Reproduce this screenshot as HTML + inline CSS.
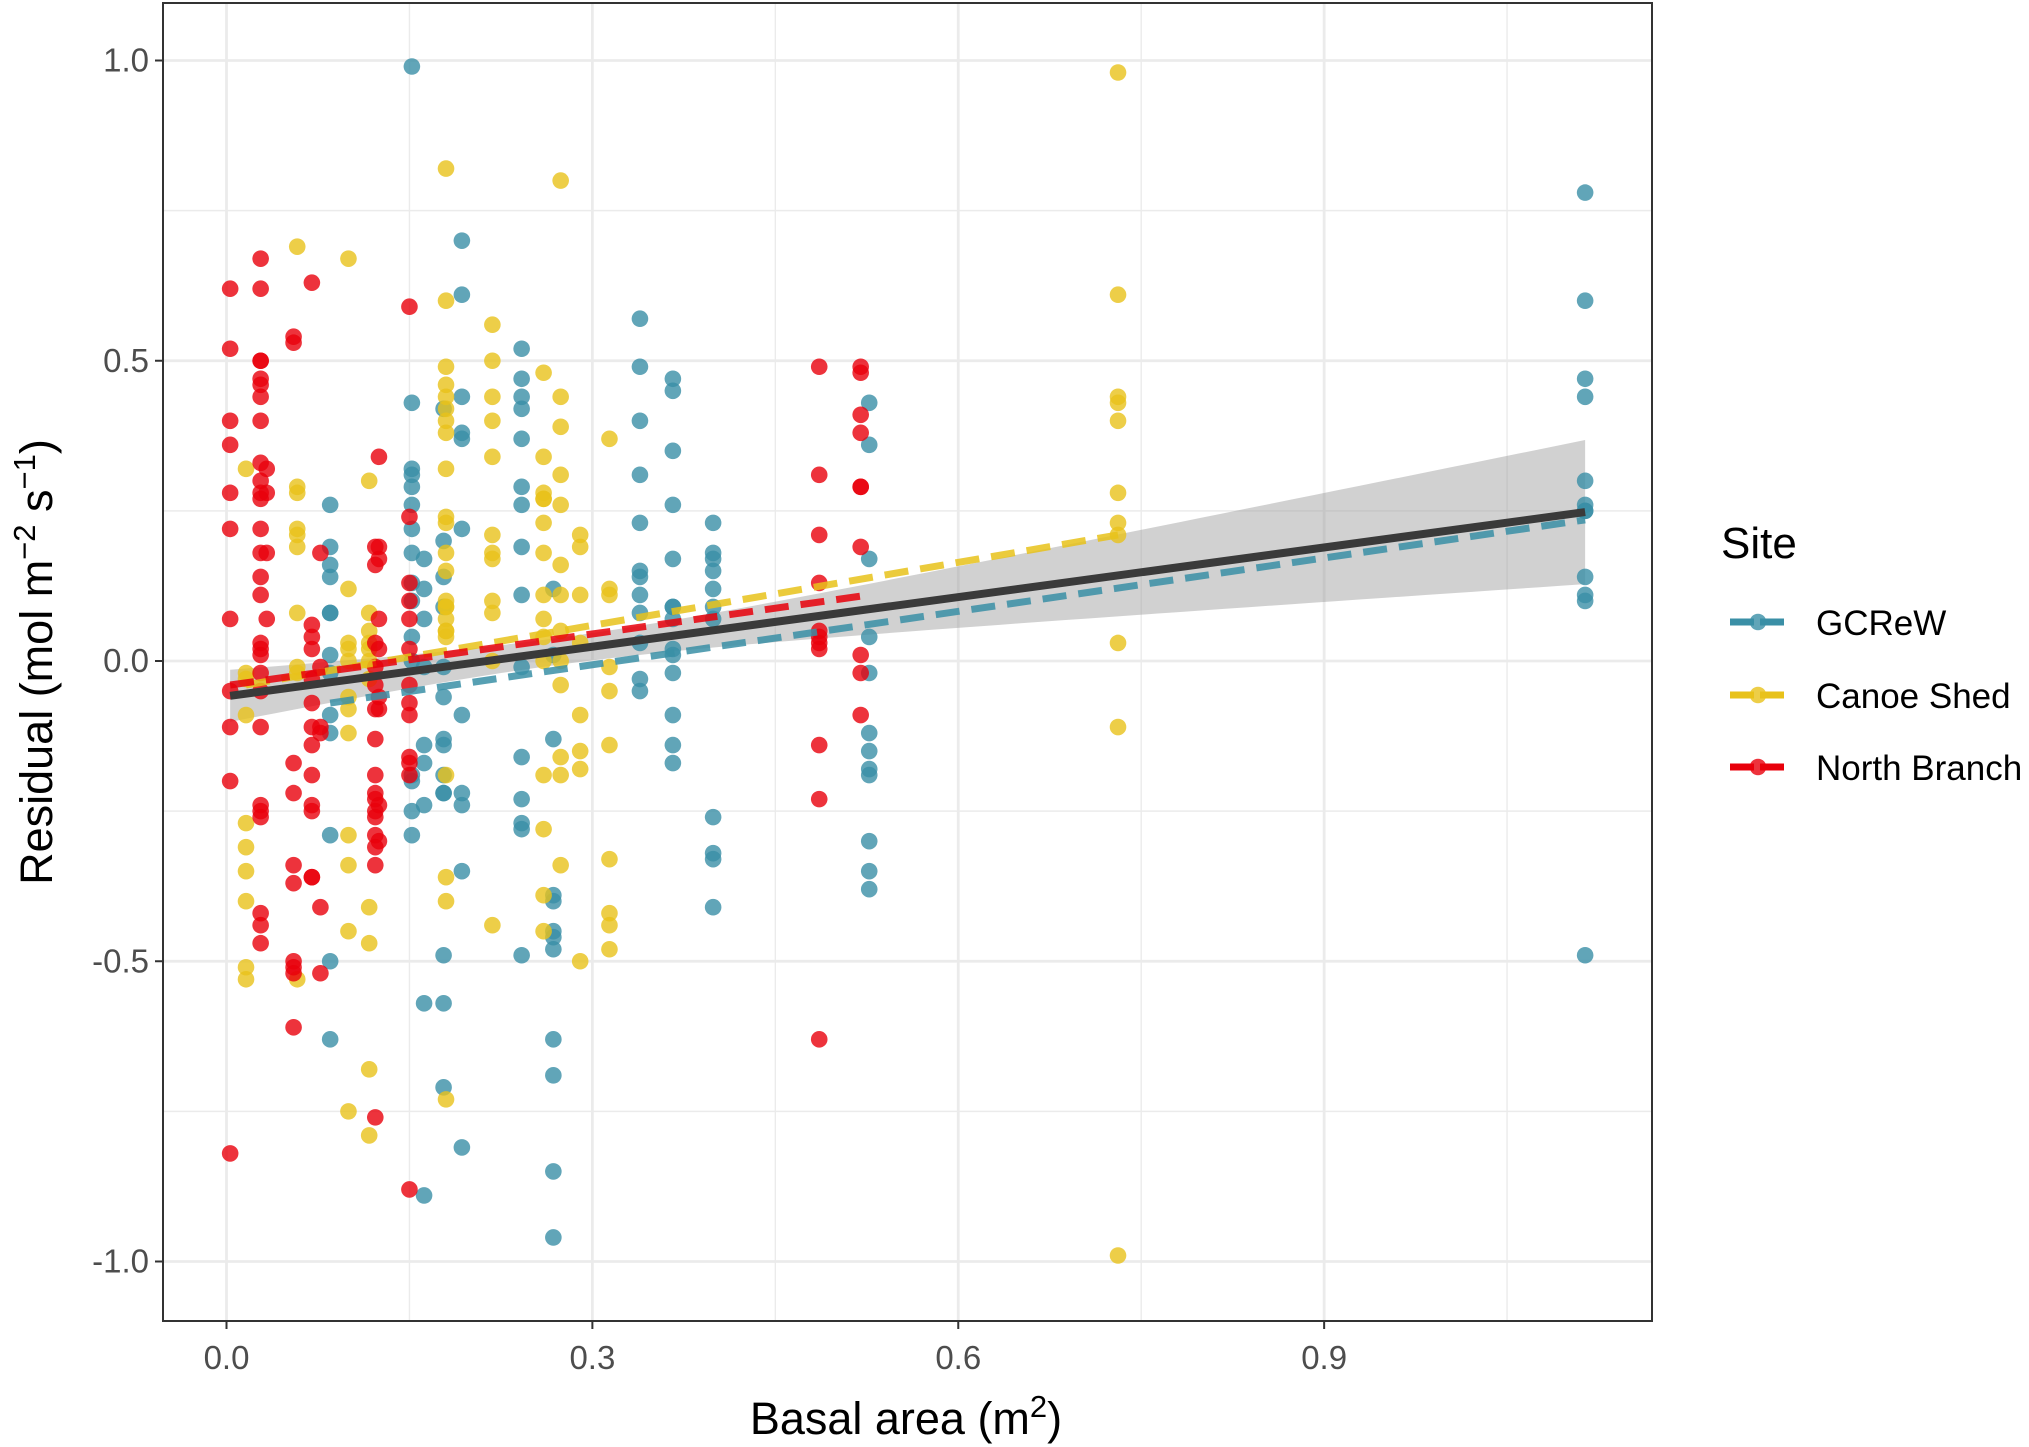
<!DOCTYPE html>
<html><head><meta charset="utf-8"><style>
body{margin:0;background:#fff;}
svg{display:block;font-family:"Liberation Sans",Arial,sans-serif;}
</style></head><body>
<svg id="chart" width="2029" height="1447" viewBox="0 0 2029 1447">
<g id="grid"></g>
<g id="ribbon"></g>
<g id="points"></g>
<g id="lines"></g>
<g id="axes"></g>
<g id="legend"></g>
</svg>
<script>
const xTicks=[0.0,0.3,0.6,0.9];
const xTickLabels=["0.0","0.3","0.6","0.9"];
const yTicks=[-1.0,-0.5,0.0,0.5,1.0];
const yTickLabels=["-1.0","-0.5","0.0","0.5","1.0"];
const siteNames=["GCReW","Canoe Shed","North Branch"];
const siteColors=["#3a8fa6","#e8c21a","#e8000b"];
// columns: [x, [y values]]
const gcrewCols=[
[0.085,[0.26,0.19,0.16,0.14,0.08,0.08,0.01,-0.02,-0.09,-0.12,-0.29,-0.50,-0.63]],
[0.152,[0.99,0.43,0.32,0.31,0.29,0.26,0.22,0.18,0.13,0.10,0.04,0.00,-0.19,-0.20,-0.25,-0.29]],
[0.162,[0.17,0.12,0.07,-0.01,-0.14,-0.17,-0.24,-0.57,-0.89]],
[0.178,[0.42,0.20,0.14,0.09,-0.01,-0.06,-0.13,-0.14,-0.19,-0.22,-0.22,-0.49,-0.57,-0.71]],
[0.193,[0.70,0.61,0.44,0.38,0.37,0.22,-0.09,-0.22,-0.24,-0.35,-0.81]],
[0.242,[0.52,0.47,0.44,0.42,0.37,0.29,0.26,0.19,0.11,-0.01,-0.16,-0.23,-0.27,-0.28,-0.49]],
[0.268,[0.12,0.01,-0.13,-0.39,-0.40,-0.45,-0.46,-0.48,-0.63,-0.69,-0.85,-0.96]],
[0.339,[0.57,0.49,0.40,0.31,0.23,0.15,0.14,0.11,0.08,0.03,-0.03,-0.05]],
[0.366,[0.47,0.45,0.35,0.26,0.17,0.09,0.09,0.07,0.02,0.01,-0.02,-0.09,-0.14,-0.17]],
[0.399,[0.23,0.18,0.17,0.15,0.12,0.09,0.07,-0.26,-0.32,-0.33,-0.41]],
[0.527,[0.43,0.36,0.17,0.04,-0.02,-0.12,-0.15,-0.18,-0.19,-0.30,-0.35,-0.38]],
[1.114,[0.78,0.60,0.47,0.44,0.30,0.26,0.25,0.25,0.14,0.11,0.10,-0.49]]
];
const canoeCols=[
[0.016,[0.32,-0.02,-0.03,-0.09,-0.27,-0.31,-0.35,-0.40,-0.51,-0.53]],
[0.058,[0.69,0.29,0.28,0.22,0.21,0.19,0.08,-0.01,-0.02,-0.53]],
[0.100,[0.67,0.12,0.03,0.02,0.00,-0.06,-0.08,-0.12,-0.29,-0.34,-0.45,-0.75]],
[0.117,[0.30,0.08,0.05,0.03,0.02,0.00,-0.03,-0.41,-0.47,-0.68,-0.79]],
[0.180,[0.82,0.60,0.49,0.46,0.44,0.42,0.40,0.38,0.32,0.24,0.23,0.18,0.15,0.10,0.09,0.09,0.07,0.05,0.05,0.04,-0.19,-0.36,-0.40,-0.73]],
[0.218,[0.56,0.50,0.44,0.40,0.34,0.21,0.18,0.17,0.10,0.08,0.00,-0.44]],
[0.260,[0.48,0.34,0.28,0.27,0.27,0.23,0.18,0.11,0.07,0.04,0.00,-0.19,-0.28,-0.39,-0.45]],
[0.274,[0.80,0.44,0.39,0.31,0.26,0.16,0.11,0.05,0.00,-0.04,-0.16,-0.19,-0.34]],
[0.290,[0.21,0.19,0.11,0.03,-0.09,-0.15,-0.18,-0.50]],
[0.314,[0.37,0.12,0.11,-0.01,-0.05,-0.14,-0.33,-0.42,-0.44,-0.48]],
[0.731,[0.98,0.61,0.44,0.43,0.40,0.28,0.23,0.21,0.03,-0.11,-0.99]]
];
const northCols=[
[0.003,[0.62,0.52,0.40,0.36,0.28,0.22,0.07,-0.05,-0.11,-0.20,-0.82]],
[0.028,[0.67,0.62,0.50,0.50,0.47,0.46,0.44,0.40,0.33,0.30,0.28,0.27,0.22,0.18,0.14,0.11,0.03,0.02,0.01,-0.02,-0.05,-0.11,-0.24,-0.25,-0.26,-0.42,-0.44,-0.47]],
[0.033,[0.32,0.28,0.18,0.07]],
[0.055,[0.54,0.53,-0.17,-0.22,-0.34,-0.37,-0.50,-0.51,-0.52,-0.61]],
[0.070,[0.63,0.06,0.04,0.02,-0.03,-0.07,-0.11,-0.14,-0.19,-0.24,-0.25,-0.36,-0.36]],
[0.077,[0.18,-0.01,-0.11,-0.12,-0.41,-0.52]],
[0.122,[0.19,0.16,0.03,-0.01,-0.04,-0.08,-0.13,-0.19,-0.22,-0.23,-0.25,-0.26,-0.29,-0.31,-0.34,-0.76]],
[0.125,[0.34,0.19,0.17,0.07,0.02,-0.06,-0.08,-0.24,-0.30]],
[0.150,[0.59,0.24,0.13,0.10,0.07,0.02,-0.04,-0.07,-0.09,-0.16,-0.17,-0.19,-0.88]],
[0.486,[0.49,0.31,0.21,0.13,0.05,0.04,0.03,0.02,-0.14,-0.23,-0.63]],
[0.520,[0.49,0.48,0.41,0.38,0.29,0.29,0.19,0.01,-0.02,-0.09]]
];
// fit lines: [x0,y0,x1,y1]
const overallFit=[0.003,-0.058,1.114,0.248];
const gcrewFit=[0.085,-0.07,1.114,0.235];
const canoeFit=[0.016,-0.04,0.731,0.21];
const northFit=[0.003,-0.04,0.527,0.11];
const ribbonMeanX=0.27, ribbonA=0.0005, ribbonB=0.0195;

const NS="http://www.w3.org/2000/svg";
const L=163,R=1652,T=3,B=1321;
const sx=v=>226.5+v*1219.6;
const sy=v=>661-v*600.5;
function el(tag,attrs,parent){const e=document.createElementNS(NS,tag);for(const k in attrs)e.setAttribute(k,attrs[k]);parent.appendChild(e);return e;}
const grid=document.getElementById('grid');
el('rect',{x:L,y:T,width:R-L,height:B-T,fill:'#fff'},grid);
for(let i=0;i<xTicks.length;i++){const m=xTicks[i]+0.15;const g=el('line',{x1:sx(m),x2:sx(m),y1:T,y2:B,stroke:'#ebebeb','stroke-width':1.4},grid);}
for(let i=0;i<yTicks.length-1;i++){const m=yTicks[i]+0.25;const g=el('line',{x1:L,x2:R,y1:sy(m),y2:sy(m),stroke:'#ebebeb','stroke-width':1.4},grid);}
xTicks.forEach(v=>{const g=el('line',{x1:sx(v),x2:sx(v),y1:T,y2:B,stroke:'#ebebeb','stroke-width':2.8},grid);});
yTicks.forEach(v=>{const g=el('line',{x1:L,x2:R,y1:sy(v),y2:sy(v),stroke:'#ebebeb','stroke-width':2.8},grid);});
const rib=document.getElementById('ribbon');
const fy=x=>overallFit[1]+(overallFit[3]-overallFit[1])*(x-overallFit[0])/(overallFit[2]-overallFit[0]);
const hw=x=>Math.sqrt(ribbonA+ribbonB*(x-ribbonMeanX)**2);
let up=[],dn=[];
for(let i=0;i<=60;i++){const x=overallFit[0]+(overallFit[2]-overallFit[0])*i/60;up.push(sx(x)+','+sy(fy(x)+hw(x)));dn.unshift(sx(x)+','+sy(fy(x)-hw(x)));}
const rp=el('polygon',{points:up.concat(dn).join(' '),fill:'#999',opacity:0.45},rib);


const pts=document.getElementById('points');
[gcrewCols,canoeCols,northCols].forEach((cols,si)=>{
 const g=el('g',{},pts);
 
 
 cols.forEach(c=>c[1].forEach(y=>{
  const p=el('circle',{cx:sx(c[0]),cy:sy(y),r:8.3,fill:siteColors[si],'fill-opacity':0.8},g);
  
  
 }));
});
const ln=document.getElementById('lines');
[[gcrewFit,'#3a8fa6','gcrew-fit-line'],[canoeFit,'#e8c21a','canoe-shed-fit-line'],[northFit,'#e8000b','north-branch-fit-line']].forEach(d=>{
 const f=d[0];
 const l=el('line',{x1:sx(f[0]),y1:sy(f[1]),x2:sx(f[2]),y2:sy(f[3]),stroke:d[1],'stroke-width':7,'stroke-opacity':0.85,'stroke-dasharray':'24,12'},ln);
 
 
});
const ol=el('line',{x1:sx(overallFit[0]),y1:sy(overallFit[1]),x2:sx(overallFit[2]),y2:sy(overallFit[3]),stroke:'#3a3a3a','stroke-width':8},ln);


const ax=document.getElementById('axes');
const border=el('rect',{x:L,y:T,width:R-L,height:B-T,fill:'none',stroke:'#333','stroke-width':2},ax);


xTicks.forEach((v,i)=>{
 el('line',{x1:sx(v),x2:sx(v),y1:B,y2:B+8,stroke:'#333','stroke-width':2},ax);
 const t=el('text',{x:sx(v),y:B+48,'text-anchor':'middle','font-size':33,fill:'#4d4d4d'},ax);
 t.textContent=xTickLabels[i];
 
 
});
yTicks.forEach((v,i)=>{
 el('line',{x1:L-8,x2:L,y1:sy(v),y2:sy(v),stroke:'#333','stroke-width':2},ax);
 const t=el('text',{x:L-14,y:sy(v)+11,'text-anchor':'end','font-size':33,fill:'#4d4d4d'},ax);
 t.textContent=yTickLabels[i];
 
 
});
</script>
<script>
(function(){
const svg=document.getElementById('chart');
const NS="http://www.w3.org/2000/svg";
const xt=document.createElementNS(NS,'text');
xt.setAttribute('x','906');xt.setAttribute('y','1434');xt.setAttribute('text-anchor','middle');xt.setAttribute('font-size','45');xt.setAttribute('fill','#000');
xt.innerHTML='Basal area (m<tspan baseline-shift="super" font-size="31">2</tspan>)';


svg.appendChild(xt);
const yt=document.createElementNS(NS,'text');
yt.setAttribute('transform','translate(52,662) rotate(-90)');yt.setAttribute('text-anchor','middle');yt.setAttribute('font-size','45');yt.setAttribute('fill','#000');
yt.innerHTML='Residual (mol m<tspan baseline-shift="super" font-size="31">−2</tspan> s<tspan baseline-shift="super" font-size="31">−1</tspan>)';


svg.appendChild(yt);
const lg=document.getElementById('legend');
const lt=document.createElementNS(NS,'text');
lt.setAttribute('x','1721');lt.setAttribute('y','558');lt.setAttribute('font-size','44');
lt.textContent='Site';


lg.appendChild(lt);
const names=["GCReW","Canoe Shed","North Branch"],cols=["#3a8fa6","#e8c21a","#e8000b"],ys=[622,695,767];
names.forEach((n,i)=>{
 const g=document.createElementNS(NS,'g');
 
 
 g.innerHTML='<line x1="1730" x2="1786" y1="'+ys[i]+'" y2="'+ys[i]+'" stroke="'+cols[i]+'" stroke-width="7" stroke-dasharray="24,6"/><circle cx="1758" cy="'+ys[i]+'" r="8.3" fill="'+cols[i]+'" fill-opacity="0.8"/><text x="1816" y="'+(ys[i]+13)+'" font-size="35">'+n+'</text>';
 lg.appendChild(g);
});
})();
</script>
</body></html>
